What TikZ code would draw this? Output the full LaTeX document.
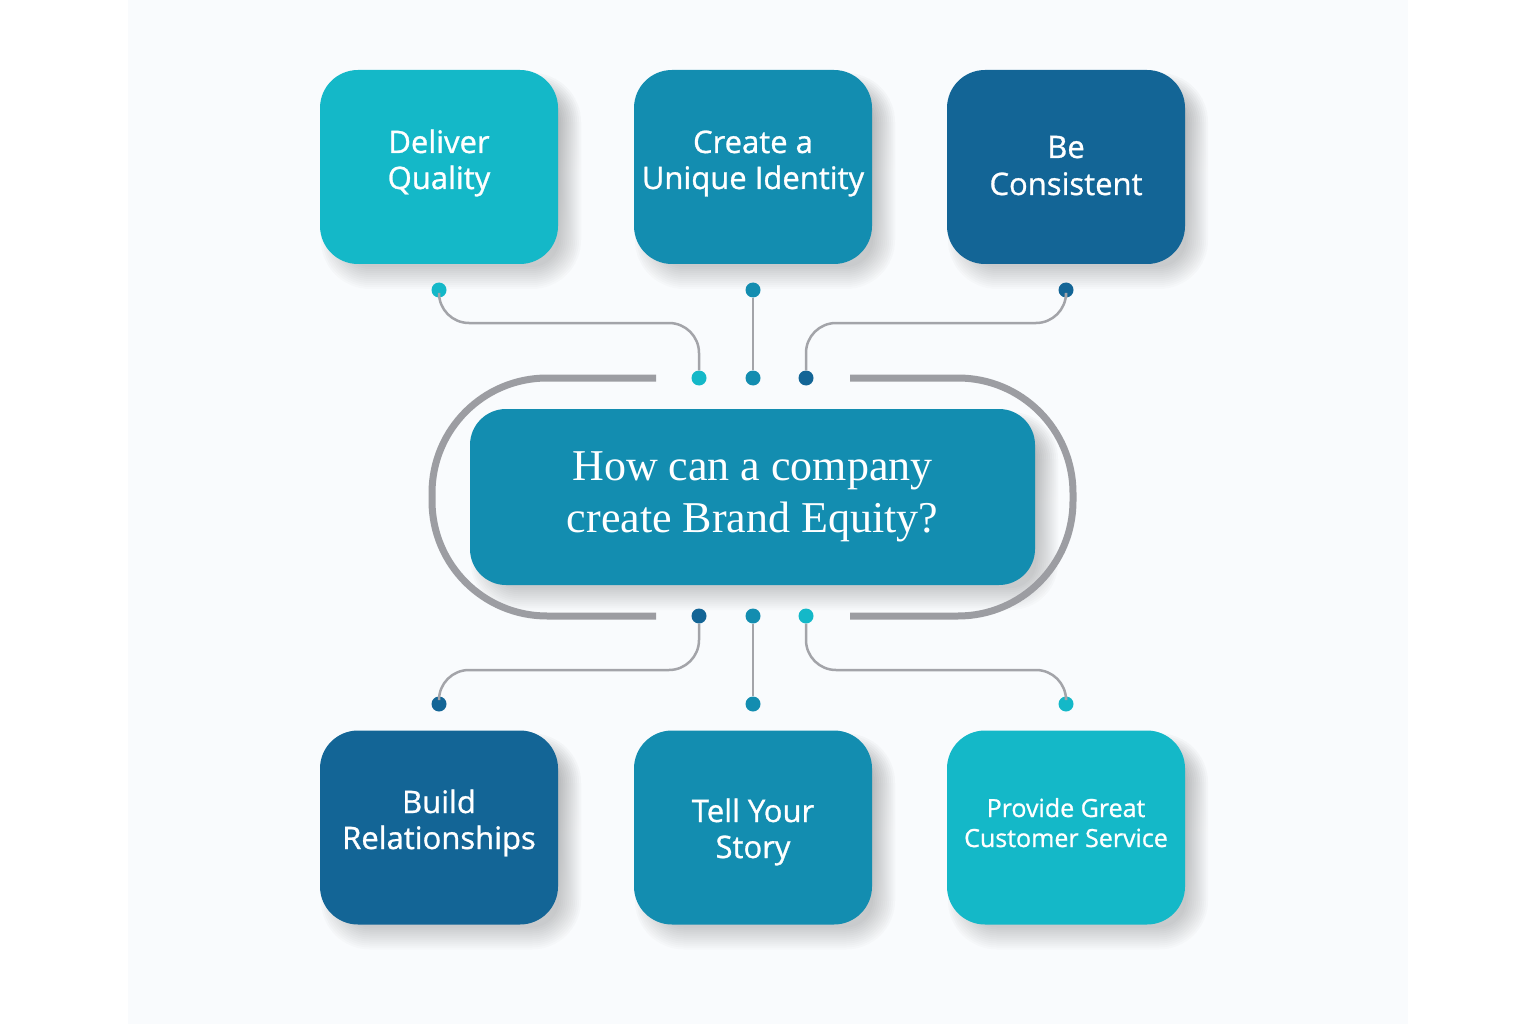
\documentclass[tikz,border=0pt]{standalone}
\usepackage{fontspec}
\setmainfont{Open Sans}[FakeBold=0.9]
\newfontfamily\titlefont{Liberation Serif}
\definecolor{cLight}{HTML}{14B8C8}
\definecolor{cMid}{HTML}{138DB0}
\definecolor{cDark}{HTML}{136596}
\definecolor{lineGrey}{HTML}{A3A4A9}
\definecolor{brGrey}{HTML}{9C9DA2}
\definecolor{panel}{HTML}{F9FBFD}
\definecolor{shade}{HTML}{3A4250}
\begin{document}
\begin{tikzpicture}[x=1pt,y=-1pt,
  card/.style={rounded corners=38pt, minimum width=238pt, minimum height=194pt, inner sep=0pt},
  cardtext/.style={anchor=base, text=white, inner sep=0pt, font=\fontsize{31}{36}\selectfont},
  qbox/.style={rounded corners=36pt, minimum width=565pt, minimum height=176pt,
    fill=cMid, text=white, align=center, inner sep=0pt, font=\titlefont\fontsize{44}{52}\selectfont},
  dot/.style={circle, inner sep=0pt, minimum size=15pt},
  conn/.style={draw=lineGrey, line width=2.5pt, rounded corners=30pt},
  bracket/.style={draw=brGrey, line width=7pt, rounded corners=115pt}]
\useasboundingbox (0,0) rectangle (1536,1024);
\fill[white] (0,0) rectangle (1536,1024);
\fill[panel] (128,0) rectangle (1408,1024);

% soft shadows (drawn as stacked translucent rounded rectangles)
\foreach \cx/\cy/\hw/\hh/\r in {439/167/119/97/38, 753/167/119/97/38, 1066/167/119/97/38,
    439/827.5/119/97/38, 753/827.5/119/97/38, 1066/827.5/119/97/38, 752.5/497/282.5/88/36} {
  \foreach \e in {-11,-9,...,11} {
    \pgfmathsetmacro\rr{max(\r+\e,2)}
    \fill[shade, opacity=0.015, rounded corners=\rr pt]
      (\cx+12-\hw-\e, \cy+14-\hh-\e) rectangle (\cx+12+\hw+\e, \cy+14+\hh+\e);
  }
}

% brackets around the question
\draw[bracket] (656,378) -- (432,378) -- (432,616) -- (656,616);
\draw[bracket] (850,378) -- (1073,378) -- (1073,616) -- (850,616);

% question
\node[qbox] (q) at (752.5,497) {How can a company\\create Brand Equity?};

% cards
\node[card, fill=cLight] (dq) at (439,167) {};
\node[card, fill=cMid] (ui) at (753,167) {};
\node[card, fill=cDark] (bc) at (1066,167) {};
\node[card, fill=cDark] (br) at (439,827.5) {};
\node[card, fill=cMid] (ts) at (753,827.5) {};
\node[card, fill=cLight] (cs) at (1066,827.5) {};

% card labels (anchored at first baseline)
\node[cardtext] (dqt) at (439,153) {\begin{tabular}[t]{@{}c@{}}Deliver\\Quality\end{tabular}};
\node[cardtext] (uit) at (753,153) {\begin{tabular}[t]{@{}c@{}}Create a\\Unique Identity\end{tabular}};
\node[cardtext, font=\fontsize{31}{37}\selectfont] (bct) at (1066,158) {\begin{tabular}[t]{@{}c@{}}Be\\Consistent\end{tabular}};
\node[cardtext] (brt) at (439,813) {\begin{tabular}[t]{@{}c@{}}Build\\Relationships\end{tabular}};
\node[cardtext] (tst) at (753,822) {\begin{tabular}[t]{@{}c@{}}Tell Your\\Story\end{tabular}};
\node[cardtext, font=\fontsize{25}{30}\selectfont] (cst) at (1066,817) {\begin{tabular}[t]{@{}c@{}}Provide Great\\Customer Service\end{tabular}};

% dots
\node[dot, fill=cLight] (t1) at (439,290) {};
\node[dot, fill=cMid]   (t2) at (753,290) {};
\node[dot, fill=cDark]  (t3) at (1066,290) {};
\node[dot, fill=cLight] (m1) at (699,378) {};
\node[dot, fill=cMid]   (m2) at (753,378) {};
\node[dot, fill=cDark]  (m3) at (806,378) {};
\node[dot, fill=cDark]  (n1) at (699,616) {};
\node[dot, fill=cMid]   (n2) at (753,616) {};
\node[dot, fill=cLight] (n3) at (806,616) {};
\node[dot, fill=cDark]  (b1) at (439,704) {};
\node[dot, fill=cMid]   (b2) at (753,704) {};
\node[dot, fill=cLight] (b3) at (1066,704) {};

% connectors
\draw[conn] (t1) |- (699,323) -- (m1);
\draw[conn] (t2) -- (m2);
\draw[conn] (t3) |- (806,323) -- (m3);
\draw[conn] (n1) |- (439,670) -- (b1);
\draw[conn] (n2) -- (b2);
\draw[conn] (n3) |- (1066,670) -- (b3);
\end{tikzpicture}
\end{document}
